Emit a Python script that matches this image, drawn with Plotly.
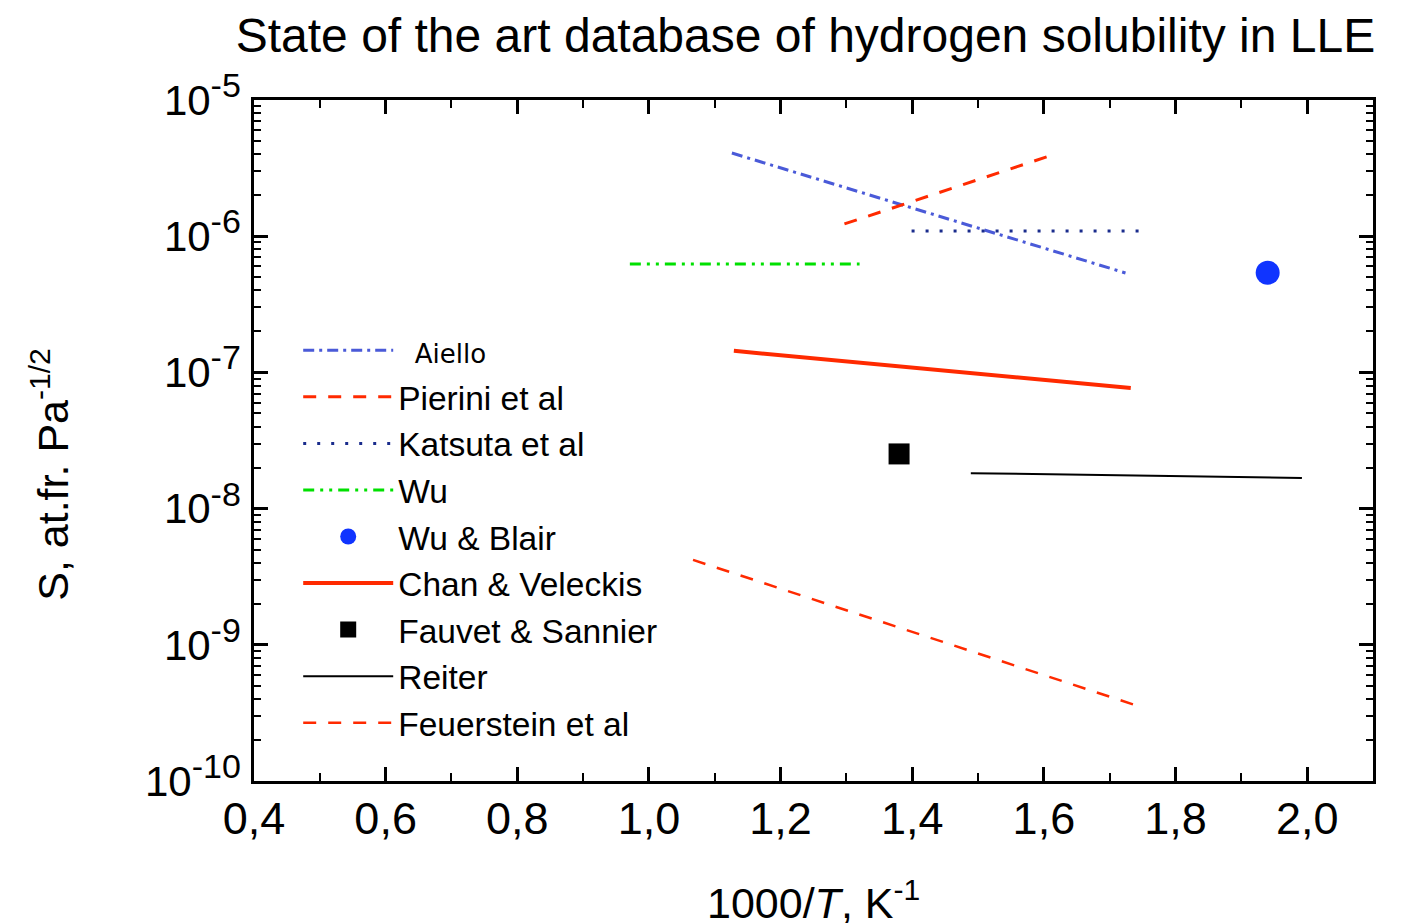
import plotly.graph_objects as go

FONT = "Liberation Sans, Arial, sans-serif"

# ---- data ----
aiello_x = [1.126, 1.724]
aiello_y = [4.08e-6, 5.37e-7]

pierini_x = [1.297, 1.613]
pierini_y = [1.23e-6, 3.95e-6]

katsuta_x = [1.399, 1.750]
katsuta_y = [1.09e-6, 1.09e-6]

wu_x = [0.971, 1.320]
wu_y = [6.25e-7, 6.25e-7]

wublair_x = [1.940]
wublair_y = [5.4e-7]

chan_x = [1.129, 1.732]
chan_y = [1.44e-7, 7.67e-8]

fauvet_x = [1.380]
fauvet_y = [2.52e-8]

reiter_x = [1.489, 1.992]
reiter_y = [1.82e-8, 1.68e-8]

feuer_x = [1.067, 1.752]
feuer_y = [4.2e-9, 3.44e-10]

y_decades = [-10, -9, -8, -7, -6, -5]
y_ticktext = ['10<sup><span style="font-size:34px">-10</span></sup>',
              '10<sup><span style="font-size:34px">-9</span></sup>',
              '10<sup><span style="font-size:34px">-8</span></sup>',
              '10<sup><span style="font-size:34px">-7</span></sup>',
              '10<sup><span style="font-size:34px">-6</span></sup>',
              '10<sup><span style="font-size:34px">-5</span></sup>']

RED = "#ff2a00"

fig = go.Figure()

fig.add_trace(go.Scatter(
    x=aiello_x, y=aiello_y, mode="lines",
    name='<span style="font-family:DejaVu Sans;font-size:26px">  Aiello</span>',
    line=dict(color="#4a5ad8", width=3, dash="11px,5px,3px,5px")))
fig.add_trace(go.Scatter(
    x=pierini_x, y=pierini_y, mode="lines", name="Pierini et al",
    line=dict(color=RED, width=3, dash="13px,12px")))
fig.add_trace(go.Scatter(
    x=katsuta_x, y=katsuta_y, mode="lines", name="Katsuta et al",
    line=dict(color="#1a2c8c", width=3, dash="3px,11px")))
fig.add_trace(go.Scatter(
    x=wu_x, y=wu_y, mode="lines", name="Wu",
    line=dict(color="#00e000", width=3, dash="11px,6px,3px,6px,3px,6px")))
fig.add_trace(go.Scatter(
    x=wublair_x, y=wublair_y, mode="markers", name="Wu &amp; Blair",
    marker=dict(color="#1034ff", size=24, symbol="circle")))
fig.add_trace(go.Scatter(
    x=chan_x, y=chan_y, mode="lines", name="Chan &amp; Veleckis",
    line=dict(color=RED, width=4)))
fig.add_trace(go.Scatter(
    x=fauvet_x, y=fauvet_y, mode="markers", name="Fauvet &amp; Sannier",
    marker=dict(color="black", size=21, symbol="square")))
fig.add_trace(go.Scatter(
    x=reiter_x, y=reiter_y, mode="lines", name="Reiter",
    line=dict(color="black", width=2)))
fig.add_trace(go.Scatter(
    x=feuer_x, y=feuer_y, mode="lines", name="Feuerstein et al",
    line=dict(color=RED, width=2.5, dash="13px,12px")))

minor_y = [m * 10.0 ** d for d in y_decades[:-1] for m in range(2, 10)]

fig.update_layout(
    width=1402, height=923,
    margin=dict(l=254, r=29, t=100, b=142),
    paper_bgcolor="white", plot_bgcolor="white",
    separators=",.",
    font=dict(family=FONT, color="black", size=34),
    title=dict(text="State of the art database of hydrogen solubility in LLE",
               x=0.5745, xanchor="center", y=0.962, yanchor="middle",
               font=dict(size=48, family=FONT, color="black")),
    showlegend=True,
    legend=dict(x=0.0395, y=0.674, xanchor="left", yanchor="top",
                bgcolor="rgba(0,0,0,0)", borderwidth=0,
                font=dict(size=33.5, family=FONT, color="black"),
                itemwidth=90, tracegroupgap=0),
    xaxis=dict(range=[0.4, 2.1], tick0=0.4, dtick=0.2, tickformat=".1f",
               ticks="inside", ticklen=14, tickwidth=2.5, tickcolor="black",
               minor=dict(dtick=0.1, ticks="inside", ticklen=8, tickwidth=2,
                          tickcolor="black", showgrid=False),
               showline=True, linewidth=2.5, linecolor="black", mirror="allticks",
               showgrid=False, zeroline=False,
               tickfont=dict(size=45, family=FONT, color="black"),
               ticklabelstandoff=-4),
    yaxis=dict(type="log", range=[-10, -5], tickmode="array",
               tickvals=[10.0 ** d for d in y_decades], ticktext=y_ticktext,
               ticks="inside", ticklen=14, tickwidth=2.5, tickcolor="black",
               minor=dict(tickmode="array", tickvals=minor_y, ticks="inside",
                          ticklen=7, tickwidth=1.5, tickcolor="black", showgrid=False),
               showline=True, linewidth=2.5, linecolor="black", mirror="allticks",
               showgrid=False, zeroline=False,
               tickfont=dict(size=42, family=FONT, color="black"),
               ticklabelstandoff=2),
)

fig.add_annotation(text="1000/<i>T</i>, K<sup>-1</sup>", xref="paper", yref="paper",
                   x=0.5, y=-0.175, xanchor="center", yanchor="middle",
                   showarrow=False, font=dict(size=43, family=FONT, color="black"))
fig.add_annotation(text="S, at.fr. Pa<sup>-1/2</sup>", xref="paper", yref="paper",
                   x=-0.183, y=0.45, xanchor="center", yanchor="middle", textangle=-90,
                   showarrow=False, font=dict(size=43, family=FONT, color="black"))

fig.write_html("out.html")
